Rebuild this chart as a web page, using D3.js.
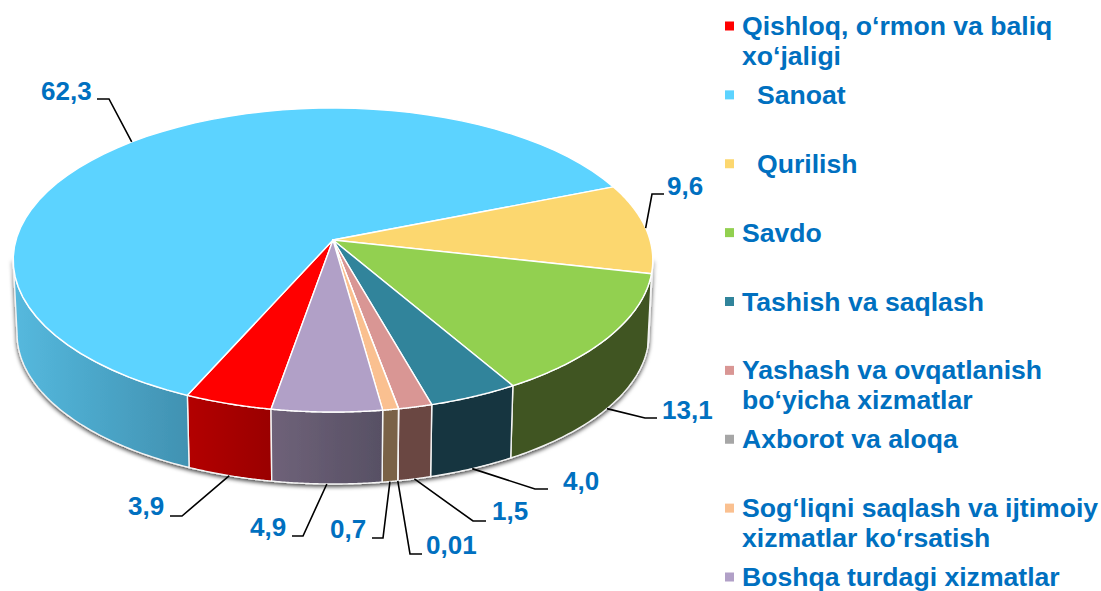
<!DOCTYPE html>
<html>
<head>
<meta charset="utf-8">
<script src="https://cdn.jsdelivr.net/npm/d3@7"></script>
<style>
    html, body { margin: 0; padding: 0; background: #fff; }
    svg { display: block; }
    text { font-family: "Liberation Sans", Arial, sans-serif; font-weight: bold; fill: #0070c0; }
</style>
</head>
<body>
<script>
// Values, in legend order
var categories = [
    ["Qishloq, o‘rmon va baliq", "xo‘jaligi"],
    ["Sanoat"],
    ["Qurilish"],
    ["Savdo"],
    ["Tashish va saqlash"],
    ["Yashash va ovqatlanish", "bo‘yicha xizmatlar"],
    ["Axborot va aloqa"],
    ["Sog‘liqni saqlash va ijtimoiy", "xizmatlar ko‘rsatish"],
    ["Boshqa turdagi xizmatlar"]
];
var values = [3.9, 62.3, 9.6, 13.1, 4.0, 1.5, 0.01, 0.7, 4.9];
var valueLabels = ["3,9", "62,3", "9,6", "13,1", "4,0", "1,5", "0,01", "0,7", "4,9"];

var topColors = ["#ff0000", "#5cd3ff", "#fcd76f", "#92d050", "#31849b", "#d99694", "#a6a6a6", "#fac090", "#b1a0c7"];
var sideLeft = ["#b30000", "#55b9de", "#3f5520", "#3f5520", "#16353f", "#6b4643", "#555555", "#7a6246", "#6f6279"];
var sideRight = ["#9a0000", "#4192b2", "#3f5520", "#3f5520", "#16353f", "#6b4643", "#555555", "#7a6246", "#575064"];

// Layout of the value labels: text x (start), baseline, elbow and end of the leader
var labelX = [128, 41, 667, 662, 563, 492, 426, 330, 250];
var labelY = [515, 100, 195, 419, 490, 520, 554, 538, 536];
var elbowX = [182, 109, 652, 645, 535, 473, 410, 383, 303];
var stubX = [170, 97, 664, 657, 548, 486, 422, 372, 292];
var elbowY = [516, 99, 194, 418, 489, 521, 554, 538, 536];

// Pie geometry, the flat circle seen in perspective
var pieCx = 333, pieCy = 240, pieAx = 317, pieAy = 117.8, pieE = -0.1316;
var wallDepth = 73.8, wallScale = 0.988, wallMidY = 260;
var startDeg = 189.8;

var svg = d3.select("body").append("svg")
    .attr("width", 1101)
    .attr("height", 591);

var defs = svg.append("defs");

var pie = d3.pie()
    .sort(null)
    .value(function (d) { return d; })
    .startAngle(startDeg * Math.PI / 180)
    .endAngle((startDeg + 360) * Math.PI / 180);
var slices = pie(values);

// Angle is clockwise from the back of the pie
function topPoint(a) {
    var u = Math.sin(a), v = -Math.cos(a);
    var w = 1 + pieE * v;
    return [pieCx + pieAx * u / w, (pieCy + pieAy * v) / w];
}

function bottomPoint(a) {
    var p = topPoint(a);
    return [pieCx + (p[0] - pieCx) * wallScale, wallMidY + (p[1] - wallMidY) * wallScale + wallDepth];
}

function arcAngles(a0, a1) {
    return d3.range(0, 61).map(function (i) { return a0 + (a1 - a0) * i / 60; });
}

var path = d3.line();

drawWalls();
drawTop();
drawLeaders();
drawLegend();

// A function to draw the outer wall of the slices on the front half
function drawWalls() {
    var filter = defs.append("filter")
        .attr("id", "wallShadow")
        .attr("x", "-5%").attr("y", "-5%")
        .attr("width", "110%").attr("height", "115%");
    filter.append("feDropShadow")
        .attr("dx", 0)
        .attr("dy", 2)
        .attr("stdDeviation", 2.2)
        .attr("flood-color", "#000")
        .attr("flood-opacity", 0.75);

    var walls = svg.append("g").attr("filter", "url(#wallShadow)");

    // the wall is seen between the two points where the ellipse is widest
    var side = Math.acos(pieE);
    var from = side, to = 2 * Math.PI - side;

    slices.forEach(function (s, i) {
        var a0 = Math.max(s.startAngle, from);
        var a1 = Math.min(s.endAngle, to);
        if (s.endAngle > from + 2 * Math.PI) {
            a0 = Math.max(s.startAngle, from + 2 * Math.PI);
            a1 = Math.min(s.endAngle, to + 2 * Math.PI);
        }
        if (a1 <= a0) { return; }
        var angles = arcAngles(a0, a1);
        var upper = angles.map(topPoint);
        var lower = angles.map(bottomPoint).reverse();
        var xs = d3.extent(upper, function (p) { return p[0]; });

        var grad = defs.append("linearGradient")
            .attr("id", "side" + i)
            .attr("gradientUnits", "userSpaceOnUse")
            .attr("x1", xs[0]).attr("x2", xs[1])
            .attr("y1", 0).attr("y2", 0);
        grad.append("stop").attr("offset", 0).attr("stop-color", sideLeft[i]);
        grad.append("stop").attr("offset", 1).attr("stop-color", sideRight[i]);

        walls.append("path")
            .attr("d", path(upper.concat(lower)) + "Z")
            .attr("fill", "url(#side" + i + ")")
            .attr("stroke", "#f4f4f4")
            .attr("stroke-width", 1.4)
            .attr("stroke-linejoin", "round");
    });
}

// A function to draw the top face
function drawTop() {
    var top = svg.append("g");
    slices.forEach(function (s, i) {
        var pts = [[pieCx, pieCy]].concat(arcAngles(s.startAngle, s.endAngle).map(topPoint));
        top.append("path")
            .attr("d", path(pts) + "Z")
            .attr("fill", topColors[i])
            .attr("stroke", "#fff")
            .attr("stroke-width", 1.4)
            .attr("stroke-linejoin", "round");
    });
}

// A function to add the value labels and their leader lines
function drawLeaders() {
    slices.forEach(function (s, i) {
        var mid = (s.startAngle + s.endAngle) / 2;
        var facingBack = Math.cos(mid) > 0;
        var anchor = facingBack ? topPoint(mid) : bottomPoint(mid);
        svg.append("path")
            .attr("d", path([[stubX[i], elbowY[i]], [elbowX[i], elbowY[i]], anchor]))
            .attr("fill", "none")
            .attr("stroke", "#000")
            .attr("stroke-width", 1.6);
        svg.append("text")
            .attr("x", labelX[i])
            .attr("y", labelY[i])
            .attr("font-size", "26px")
            .text(valueLabels[i]);
    });
}

// A function to draw the legend at the right
function drawLegend() {
    var y = d3.scaleLinear().domain([0, categories.length - 1]).range([26, 577]);
    categories.forEach(function (lines, i) {
        svg.append("rect")
            .attr("x", 725)
            .attr("y", y(i) - 4.5)
            .attr("width", 9)
            .attr("height", 9)
            .attr("fill", topColors[i]);
        var indent = (i === 1 || i === 2) ? 15 : 0;
        lines.forEach(function (line, k) {
            svg.append("text")
                .attr("x", 742 + indent)
                .attr("y", y(i) + 9 + k * 30)
                .attr("font-size", "26.6px")
                .text(line);
        });
    });
}
</script>
</body>
</html>
